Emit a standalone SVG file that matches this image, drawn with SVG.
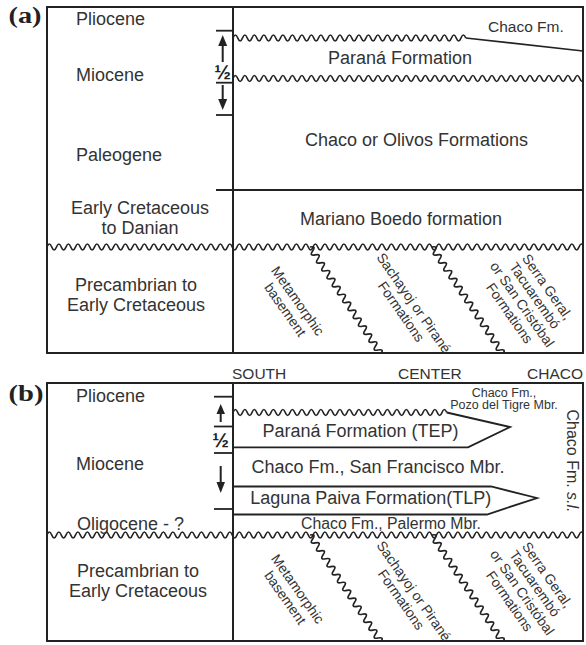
<svg xmlns="http://www.w3.org/2000/svg" width="586" height="645" viewBox="0 0 586 645">
<style>
.ln{fill:none;stroke:#222;stroke-width:1.8}
.fr{fill:none;stroke:#222;stroke-width:2}
.wv{fill:none;stroke:#222;stroke-width:1.7}
.ar{fill:none;stroke:#222;stroke-width:2}
.ah{fill:#222}
text{font-family:"Liberation Sans",Arial,sans-serif;fill:#333;font-size:18px}
.mid{text-anchor:middle}
.d14{font-size:14px;text-anchor:middle}
.s155{font-size:15.5px}
.s125{font-size:12.5px}
.s158{font-size:15.8px}
.s16{font-size:16px}
.lab{font-family:"Liberation Serif","Times New Roman",serif;font-weight:bold;font-size:24px;fill:#222}
.half{font-size:20px;font-weight:bold;text-anchor:middle;fill:#222}
</style>
<defs>
<path id="w27" class="wv" d="M0,0q2.375,-6 4.75,0t4.75,0 4.75,0 4.75,0 4.75,0 4.75,0 4.75,0 4.75,0 4.75,0 4.75,0 4.75,0 4.75,0 4.75,0 4.75,0 4.75,0 4.75,0 4.75,0 4.75,0 4.75,0 4.75,0 4.75,0 4.75,0 4.75,0 4.75,0 4.75,0 4.75,0 4.75,0"/>
<path id="w45" class="wv" d="M0,0q2.375,-6 4.75,0t4.75,0 4.75,0 4.75,0 4.75,0 4.75,0 4.75,0 4.75,0 4.75,0 4.75,0 4.75,0 4.75,0 4.75,0 4.75,0 4.75,0 4.75,0 4.75,0 4.75,0 4.75,0 4.75,0 4.75,0 4.75,0 4.75,0 4.75,0 4.75,0 4.75,0 4.75,0 4.75,0 4.75,0 4.75,0 4.75,0 4.75,0 4.75,0 4.75,0 4.75,0 4.75,0 4.75,0 4.75,0 4.75,0 4.75,0 4.75,0 4.75,0 4.75,0 4.75,0 4.75,0"/>
<path id="w49" class="wv" d="M0,0q2.375,-6 4.75,0t4.75,0 4.75,0 4.75,0 4.75,0 4.75,0 4.75,0 4.75,0 4.75,0 4.75,0 4.75,0 4.75,0 4.75,0 4.75,0 4.75,0 4.75,0 4.75,0 4.75,0 4.75,0 4.75,0 4.75,0 4.75,0 4.75,0 4.75,0 4.75,0 4.75,0 4.75,0 4.75,0 4.75,0 4.75,0 4.75,0 4.75,0 4.75,0 4.75,0 4.75,0 4.75,0 4.75,0 4.75,0 4.75,0 4.75,0 4.75,0 4.75,0 4.75,0 4.75,0 4.75,0 4.75,0 4.75,0 4.75,0 4.75,0"/>
<path id="w74" class="wv" d="M0,0q2.375,-6 4.75,0t4.75,0 4.75,0 4.75,0 4.75,0 4.75,0 4.75,0 4.75,0 4.75,0 4.75,0 4.75,0 4.75,0 4.75,0 4.75,0 4.75,0 4.75,0 4.75,0 4.75,0 4.75,0 4.75,0 4.75,0 4.75,0 4.75,0 4.75,0 4.75,0 4.75,0 4.75,0 4.75,0 4.75,0 4.75,0 4.75,0 4.75,0 4.75,0 4.75,0 4.75,0 4.75,0 4.75,0 4.75,0 4.75,0 4.75,0 4.75,0 4.75,0 4.75,0 4.75,0 4.75,0 4.75,0 4.75,0 4.75,0 4.75,0 4.75,0 4.75,0 4.75,0 4.75,0 4.75,0 4.75,0 4.75,0 4.75,0 4.75,0 4.75,0 4.75,0 4.75,0 4.75,0 4.75,0 4.75,0 4.75,0 4.75,0 4.75,0 4.75,0 4.75,0 4.75,0 4.75,0 4.75,0 4.75,0 4.75,0"/>
<path id="w113" class="wv" d="M0,0q2.375,-6 4.75,0t4.75,0 4.75,0 4.75,0 4.75,0 4.75,0 4.75,0 4.75,0 4.75,0 4.75,0 4.75,0 4.75,0 4.75,0 4.75,0 4.75,0 4.75,0 4.75,0 4.75,0 4.75,0 4.75,0 4.75,0 4.75,0 4.75,0 4.75,0 4.75,0 4.75,0 4.75,0 4.75,0 4.75,0 4.75,0 4.75,0 4.75,0 4.75,0 4.75,0 4.75,0 4.75,0 4.75,0 4.75,0 4.75,0 4.75,0 4.75,0 4.75,0 4.75,0 4.75,0 4.75,0 4.75,0 4.75,0 4.75,0 4.75,0 4.75,0 4.75,0 4.75,0 4.75,0 4.75,0 4.75,0 4.75,0 4.75,0 4.75,0 4.75,0 4.75,0 4.75,0 4.75,0 4.75,0 4.75,0 4.75,0 4.75,0 4.75,0 4.75,0 4.75,0 4.75,0 4.75,0 4.75,0 4.75,0 4.75,0 4.75,0 4.75,0 4.75,0 4.75,0 4.75,0 4.75,0 4.75,0 4.75,0 4.75,0 4.75,0 4.75,0 4.75,0 4.75,0 4.75,0 4.75,0 4.75,0 4.75,0 4.75,0 4.75,0 4.75,0 4.75,0 4.75,0 4.75,0 4.75,0 4.75,0 4.75,0 4.75,0 4.75,0 4.75,0 4.75,0 4.75,0 4.75,0 4.75,0 4.75,0 4.75,0 4.75,0 4.75,0 4.75,0 4.75,0 4.75,0 4.75,0 4.75,0"/>
<clipPath id="clipA"><rect x="47" y="7" width="536" height="346"/></clipPath>
<clipPath id="clipB"><rect x="47" y="383" width="536" height="258"/></clipPath>
</defs>

<g id="panelA">
  <text class="lab" x="8.5" y="23" textLength="33" lengthAdjust="spacingAndGlyphs">(a)</text>
  <g id="linesA">
    <rect class="fr" x="47" y="7" width="536" height="346"/>
    <line class="fr" x1="233" y1="7" x2="233" y2="353"/>
    <line class="ln" x1="216" y1="30.7" x2="233" y2="30.7"/>
    <line class="ln" x1="216" y1="82.7" x2="233" y2="82.7"/>
    <line class="ln" x1="216" y1="115" x2="233" y2="115"/>
    <line class="ln" x1="216" y1="190" x2="583" y2="190"/>
    <line class="ar" x1="222.7" y1="45" x2="222.7" y2="62"/>
    <polygon class="ah" points="222.7,35 218.2,46 227.2,46"/>
    <line class="ar" x1="222.7" y1="85" x2="222.7" y2="100"/>
    <polygon class="ah" points="222.7,110 218.2,99 227.2,99"/>
    <g clip-path="url(#clipA)">
      <use href="#w49" x="233" y="38"/>
      <line class="wv" x1="465.75" y1="38" x2="583" y2="51"/>
      <use href="#w74" x="233" y="78.5"/>
      <use href="#w113" x="47" y="247"/>
      <use href="#w27" transform="translate(310,247) rotate(56.5)"/>
      <use href="#w27" transform="translate(432,247) rotate(56.5)"/>
    </g>
  </g>
  <g id="textsA">
    <text x="76" y="25">Pliocene</text>
    <text x="76" y="80.5">Miocene</text>
    <text x="76" y="161">Paleogene</text>
    <text class="mid" x="140" y="214.3">Early Cretaceous</text>
    <text class="mid" x="140" y="234.3">to Danian</text>
    <text class="mid" x="136" y="291">Precambrian to</text>
    <text class="mid" x="136" y="311">Early Cretaceous</text>
    <text class="half" x="222.5" y="79">½</text>
    <text class="s155" x="488" y="32">Chaco Fm.</text>
    <text class="mid" x="400" y="64">Paraná Formation</text>
    <text class="mid" x="416.5" y="145.7">Chaco or Olivos Formations</text>
    <text class="mid" x="401" y="224.5">Mariano Boedo formation</text>
    <text class="d14" transform="translate(293.8,303.6) rotate(55)"><tspan x="0" y="0">Metamorphic</tspan><tspan x="0" dy="15.3">basement</tspan></text>
    <text class="d14" transform="translate(409.8,305.6) rotate(55)"><tspan x="0" y="0">Sachayoj or Pirané</tspan><tspan x="0" dy="15.3">Formations</tspan></text>
    <text class="d14" transform="translate(543.3,289.6) rotate(55)"><tspan x="0" y="0">Serra Geral,</tspan><tspan x="0" dy="15.3">Tacuarembó</tspan><tspan x="0" dy="15.3">or San Cristóbal</tspan><tspan x="0" dy="15.3">Formations</tspan></text>
  </g>
</g>

<g id="panelB">
  <text class="lab" x="8.5" y="401" textLength="35" lengthAdjust="spacingAndGlyphs">(b)</text>
  <text class="s155" x="232" y="379">SOUTH</text>
  <text class="s155" x="398" y="379">CENTER</text>
  <text class="s155" x="583" y="379" text-anchor="end">CHACO</text>
  <g id="linesB">
    <rect class="fr" x="47" y="383" width="536" height="258"/>
    <line class="fr" x1="233" y1="383" x2="233" y2="641"/>
    <line class="ln" x1="214" y1="396.7" x2="233" y2="396.7"/>
    <line class="ln" x1="214" y1="426.5" x2="233" y2="426.5"/>
    <line class="ln" x1="214" y1="453" x2="233" y2="453"/>
    <line class="ln" x1="214" y1="509" x2="233" y2="509"/>
    <line class="ar" x1="220.7" y1="413" x2="220.7" y2="422"/>
    <polygon class="ah" points="220.7,404 216.5,414 225,414"/>
    <line class="ar" x1="220.7" y1="466" x2="220.7" y2="483"/>
    <polygon class="ah" points="220.7,493 216.5,482 225,482"/>
    <polyline class="ln" points="446.75,412.5 510,427 468,447.3 233,447.3"/>
    <polyline class="ln" points="233,486.5 491,486.5 537,498 487,514.5 233,514.5"/>
    <g clip-path="url(#clipB)">
      <use href="#w45" x="233" y="412.5"/>
      <use href="#w113" x="47" y="535"/>
      <use href="#w27" transform="translate(310,535) rotate(56.5)"/>
      <use href="#w27" transform="translate(432,535) rotate(56.5)"/>
    </g>
  </g>
  <g id="textsB">
    <text x="76" y="401.5">Pliocene</text>
    <text x="76" y="469.5">Miocene</text>
    <text x="77" y="530">Oligocene - ?</text>
    <text class="mid" x="138" y="577">Precambrian to</text>
    <text class="mid" x="138" y="597">Early Cretaceous</text>
    <text class="half" x="220.7" y="447">½</text>
    <text class="mid s125" x="504" y="396.7">Chaco Fm.,</text>
    <text class="mid s125" x="504" y="409.3">Pozo del Tigre Mbr.</text>
    <text class="mid" x="360.5" y="437">Paraná Formation (TEP)</text>
    <text class="mid" x="378" y="473">Chaco Fm., San Francisco Mbr.</text>
    <text class="mid" x="370.8" y="503.5">Laguna Paiva Formation(TLP)</text>
    <text class="mid s158" x="391" y="529.3">Chaco Fm., Palermo Mbr.</text>
    <text class="mid s16" transform="translate(567,461) rotate(90)">Chaco Fm. <tspan font-style="italic">s.l.</tspan></text>
    <text class="d14" transform="translate(293.8,591.6) rotate(55)"><tspan x="0" y="0">Metamorphic</tspan><tspan x="0" dy="15.3">basement</tspan></text>
    <text class="d14" transform="translate(409.8,593.6) rotate(55)"><tspan x="0" y="0">Sachayoj or Pirané</tspan><tspan x="0" dy="15.3">Formations</tspan></text>
    <text class="d14" transform="translate(543.3,577.6) rotate(55)"><tspan x="0" y="0">Serra Geral,</tspan><tspan x="0" dy="15.3">Tacuarembó</tspan><tspan x="0" dy="15.3">or San Cristóbal</tspan><tspan x="0" dy="15.3">Formations</tspan></text>
  </g>
</g>
</svg>
